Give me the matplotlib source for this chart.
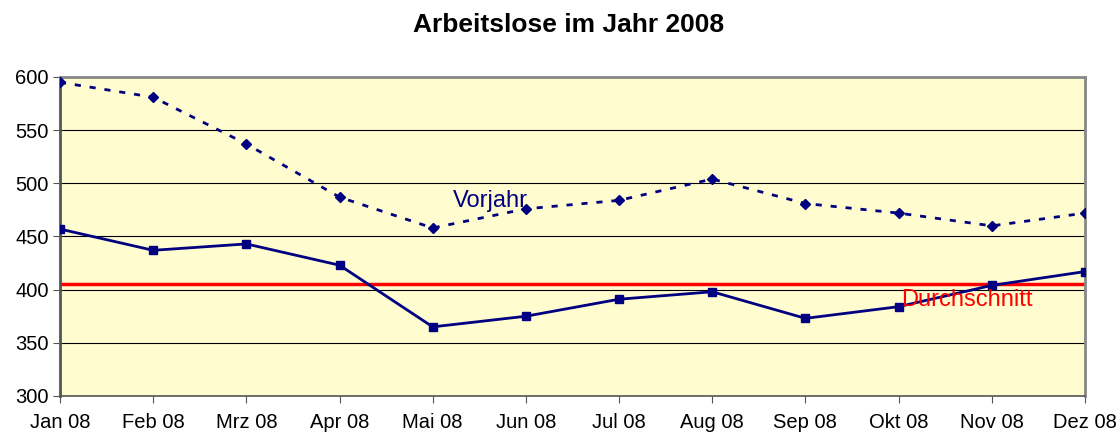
import numpy as np
import matplotlib
matplotlib.use("Agg")
from matplotlib import pyplot as plt

plt.rcParams['font.family'] = ['Liberation Sans', 'DejaVu Sans']

months = ["Jan 08", "Feb 08", "Mrz 08", "Apr 08", "Mai 08", "Jun 08",
          "Jul 08", "Aug 08", "Sep 08", "Okt 08", "Nov 08", "Dez 08"]
current = [457, 437, 443, 423, 365, 375, 391, 398, 373, 384, 404, 417]
previous = [595, 581, 537, 487, 458, 476, 484, 504, 481, 472, 460, 472]

navy = "#000080"
avg = np.mean(current)

fig = plt.figure(figsize=(11.19, 4.34), dpi=100)
ax = fig.add_axes([0.0536, 0.0876, 0.916, 0.735])
ax.set_facecolor("#FFFDCF")

x = np.arange(len(months))
ax.plot(x, previous, color=navy, lw=2, linestyle=(0, (2.2, 3.2)),
        marker="D", markersize=5, zorder=3)
ax.plot(x, current, color=navy, lw=2, marker="s", markersize=5.5, zorder=3)
ax.axhline(avg, color="#FF0000", lw=2.5, zorder=2)

ax.set_xlim(0, len(months) - 1)
ax.set_ylim(300, 600)
ax.set_yticks(np.arange(300, 601, 50))
ax.set_xticks(x)
ax.set_xticklabels(months)
ax.grid(axis="y", color="black", lw=0.8)
ax.set_axisbelow(True)
ax.tick_params(axis="both", labelsize=14.5, length=5, color="#555555", pad=7)
ax.tick_params(axis="y", pad=3)

for side in ["top", "right"]:
    ax.spines[side].set_color("#888888")
    ax.spines[side].set_linewidth(2)
ax.spines["left"].set_color("#555555")
ax.spines["left"].set_linewidth(2)
ax.spines["bottom"].set_color("#555555")
ax.spines["bottom"].set_linewidth(1.2)

ax.text(4.22, 483, "Vorjahr", color=navy, fontsize=17, va="center", ha="left")
ax.text(9.03, 390, "Durchschnitt", color="#FF0000", fontsize=17, va="center", ha="left")

fig.text(0.508, 0.942, "Arbeitslose im Jahr 2008", ha="center", va="center",
         fontsize=19, fontweight="bold")

fig.savefig("out.png", dpi=100)
